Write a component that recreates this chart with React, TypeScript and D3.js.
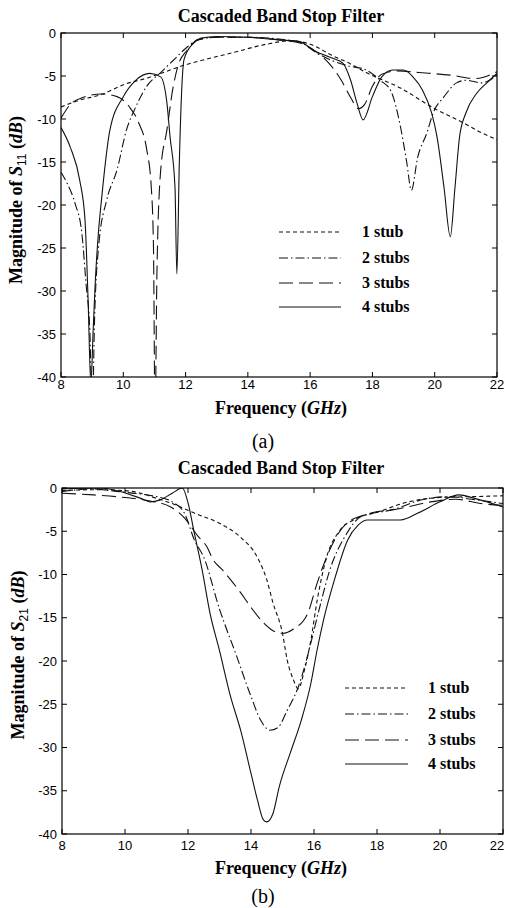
import React from "react";
import * as d3 from "d3";

type Pt = [number, number];

const freqTicks = [8, 10, 12, 14, 16, 18, 20, 22];
const dbTicks = [0, -5, -10, -15, -20, -25, -30, -35, -40];
const legendLabels = ["1 stub", "2 stubs", "3 stubs", "4 stubs"];

// (a) magnitude of S11, [GHz, dB]
const s11OneStub: Pt[] = [
  [8, -8.6], [8.6, -7.8], [9.25, -7.2], [10.1, -5.9], [10.8, -5.2], [11.2, -4.7],
  [12, -3.7], [12.5, -3.2], [13.5, -2.3], [14.6, -1.3], [15.4, -0.9], [16, -1.3],
  [16.7, -2.6], [17.3, -3.6], [17.8, -4.6], [18.9, -6.4], [19.95, -8.7], [21, -10.6],
  [21.5, -11.6], [22, -12.4],
];
const s11TwoStubs: Pt[] = [
  [8, -16.2], [8.2, -17.5], [8.45, -19.8], [8.67, -23.3], [8.8, -29], [8.93, -35],
  [9.0, -45], [9.08, -33], [9.22, -24.4], [9.47, -19.4], [9.8, -15.9], [10.1, -11.3],
  [10.4, -8.6], [10.75, -6.2], [11.2, -4.6], [11.6, -3.2], [12.0, -1.8], [12.4, -0.8],
  [13, -0.5], [14, -0.5], [15, -0.7], [15.7, -1.1], [16.2, -2.3], [16.7, -3.2],
  [17.2, -3.8], [17.8, -4.3], [18.25, -5.5], [18.6, -6.8], [18.9, -10.9], [19.1, -15],
  [19.25, -18.3], [19.45, -14.5], [19.75, -11.6], [19.95, -9.3], [20.3, -7.4],
  [20.7, -5.8], [21.0, -5.5], [21.5, -5.8], [21.8, -5.4], [22, -4.9],
];
const s11ThreeStubs: Pt[] = [
  [8, -9.9], [8.3, -8.3], [8.7, -7.5], [9.3, -7.1], [9.8, -7.4], [10.2, -8.6],
  [10.5, -10.5], [10.75, -13.5], [10.9, -18], [10.97, -25], [11.02, -45], [11.08, -28],
  [11.2, -16], [11.4, -11.3], [11.6, -6.3], [11.75, -3.9], [12.05, -2], [12.4, -0.8],
  [13, -0.5], [14, -0.5], [15, -0.8], [15.7, -1.2], [16.2, -2.2], [16.6, -3.5],
  [17.0, -5.5], [17.3, -7.5], [17.55, -8.8], [17.75, -8.3], [18.0, -6.2], [18.3, -4.8],
  [18.8, -4.4], [19.5, -4.6], [20.5, -4.9], [21.3, -5.3], [22, -4.5],
];
const s11FourStubs: Pt[] = [
  [8, -11], [8.3, -13.3], [8.6, -17.1], [8.77, -21.7], [8.87, -31], [8.96, -41],
  [9.03, -34.8], [9.1, -29], [9.2, -23.3], [9.3, -19.4], [9.57, -11.3], [10, -7.4],
  [10.4, -5.5], [10.85, -4.7], [11.2, -5.1], [11.4, -8.1], [11.5, -12], [11.66, -17.9],
  [11.72, -28], [11.8, -15], [11.88, -6.3], [11.95, -3.1], [12.25, -1.2], [12.5, -0.6],
  [13, -0.4], [14, -0.5], [15, -0.8], [15.67, -1.0], [16.1, -2], [16.7, -2.9],
  [17.05, -3.5], [17.3, -5.5], [17.5, -8.1], [17.7, -10.1], [18.0, -7.4], [18.3, -5.1],
  [18.65, -4.3], [19.0, -4.3], [19.3, -5.1], [19.6, -6.6], [19.9, -9.3], [20.07, -12],
  [20.3, -18], [20.5, -23.7], [20.65, -18], [20.8, -12], [21.0, -9.3], [21.35, -7],
  [21.7, -5.7], [22, -4.7],
];

// (b) magnitude of S21, [GHz, dB]
const s21OneStub: Pt[] = [
  [8, -0.3], [9, -0.2], [10, -0.3], [10.5, -0.6], [11, -1.2], [11.5, -1.8],
  [12.2, -2.9], [12.95, -4], [13.67, -5.7], [14.2, -8], [14.5, -10.6], [14.7, -13.3],
  [15.0, -16.8], [15.15, -19.9], [15.35, -22.2], [15.5, -23.2], [15.7, -21],
  [15.9, -17.6], [16.1, -13], [16.4, -8], [16.8, -5], [17.3, -3.6], [18, -2.8],
  [19, -1.6], [20, -1.1], [21, -1.0], [22, -0.9],
];
const s21TwoStubs: Pt[] = [
  [8, -0.4], [8.5, -0.2], [9, -0.1], [9.5, -0.3], [10, -0.5], [10.5, -0.7], [11, -1.0],
  [11.5, -1.6], [11.9, -3.0], [12.2, -6], [12.5, -8], [13.0, -14], [13.55, -19.5],
  [14.0, -24.1], [14.3, -26.8], [14.6, -28], [14.85, -27.7], [15.15, -25.7],
  [15.5, -23], [15.7, -20.7], [15.9, -17.9], [16.2, -13.5], [16.5, -9.5], [17, -5.5],
  [17.5, -3.3], [18.5, -2.5], [19.5, -1.3], [20.3, -1.0], [21, -1.3], [22, -1.8],
];
const s21ThreeStubs: Pt[] = [
  [8, -0.6], [9, -0.8], [10, -1.1], [10.8, -1.5], [11.45, -2.2], [11.9, -3.5],
  [12.3, -5.5], [12.6, -6.8], [12.8, -8.3], [13.1, -9.5], [13.35, -10.6], [13.67, -12.1],
  [14.0, -13.8], [14.4, -15.6], [14.7, -16.5], [15.0, -16.8], [15.35, -16.3],
  [15.8, -14.5], [16.1, -11], [16.4, -8], [17, -4.2], [17.7, -3], [18.7, -2.4],
  [19.7, -1.6], [20.5, -1.3], [21.3, -1.8], [22, -2.0],
];
const s21FourStubs: Pt[] = [
  [8, -0.1], [9.2, 0], [9.85, -0.4], [10.5, -1.2], [10.8, -1.6], [11.1, -1.4],
  [11.5, -0.6], [11.82, 0], [12.0, -1.7], [12.2, -5.2], [12.45, -9.5], [12.7, -14.5],
  [13.0, -18.8], [13.35, -24.1], [13.67, -28], [14.0, -33], [14.2, -36], [14.4, -38.4],
  [14.5, -38.6], [14.7, -37.6], [14.9, -34.5], [15.25, -30.6], [15.6, -26.8],
  [15.9, -22.6], [16.1, -18.7], [16.3, -15.3], [16.65, -10.6], [17.07, -6],
  [17.4, -4.3], [17.7, -3.7], [18.75, -3.7], [19.3, -2.9], [20.0, -1.6], [20.6, -0.8],
  [21.1, -1.2], [22, -2.2],
];

const dashes = ["4,3", "9,3,1.5,3", "14,6", ""];
const serif = "'Liberation Serif', 'Times New Roman', serif";
const sans = "'Liberation Sans', Arial, sans-serif";

type PanelProps = {
  id: string;
  box: { left: number; right: number; top: number; bottom: number };
  series: Pt[][];
  titleY: number;
  sub: string;
  yLabelX: number;
  yLabelY: number;
  xLabelY: number;
  tickY: number;
  caption: string;
  captionY: number;
  legend: { x0: number; x1: number; tx: number; rows: number[] };
};

function Panel(p: PanelProps) {
  const { left, right, top, bottom } = p.box;
  const x = d3.scaleLinear().domain([8, 22]).range([left, right]);
  const y = d3.scaleLinear().domain([-40, 0]).range([bottom, top]);
  const line = d3
    .line<Pt>()
    .x((d) => x(d[0]))
    .y((d) => y(d[1]))
    .curve(d3.curveMonotoneX);
  const tk = 5;

  return (
    <g>
      <defs>
        <clipPath id={p.id}>
          <rect x={left} y={top} width={right - left} height={bottom - top} />
        </clipPath>
      </defs>
      <text x={281} y={p.titleY} textAnchor="middle" fontFamily={serif} fontWeight="bold" fontSize={18}>
        Cascaded Band Stop Filter
      </text>

      <g clipPath={`url(#${p.id})`}>
        {p.series.map((s, i) => (
          <path
            key={i}
            d={line(s) || ""}
            fill="none"
            stroke="#111"
            strokeWidth={1.1}
            strokeDasharray={dashes[i] || undefined}
          />
        ))}
      </g>

      <rect x={left} y={top} width={right - left} height={bottom - top} fill="none" stroke="#000" strokeWidth={1.2} />

      {freqTicks.map((t) => {
        // keep the last label inside the page edge
        const tx = Math.min(x(t), 505 - 8);
        return (
          <g key={"x" + t}>
            <line x1={x(t)} x2={x(t)} y1={bottom} y2={bottom - tk} stroke="#000" />
            <line x1={x(t)} x2={x(t)} y1={top} y2={top + tk} stroke="#000" />
            <text x={tx} y={p.tickY} textAnchor="middle" fontFamily={sans} fontSize={13}>
              {t}
            </text>
          </g>
        );
      })}
      {dbTicks.map((t) => (
        <g key={"y" + t}>
          <line x1={left} x2={left + tk} y1={y(t)} y2={y(t)} stroke="#000" />
          <line x1={right} x2={right - tk} y1={y(t)} y2={y(t)} stroke="#000" />
          <text x={left - 5} y={y(t)} dy="0.35em" textAnchor="end" fontFamily={sans} fontSize={13}>
            {t}
          </text>
        </g>
      ))}

      <text
        transform={`translate(${p.yLabelX},${p.yLabelY}) rotate(-90)`}
        textAnchor="middle"
        fontFamily={serif}
        fontWeight="bold"
        fontSize={18}
      >
        Magnitude of <tspan fontStyle="italic">S</tspan>
        <tspan fontFamily={sans} fontWeight="normal" fontSize={12} dy={4}>
          {p.sub}
        </tspan>
        <tspan dy={-4}> (</tspan>
        <tspan fontStyle="italic">dB</tspan>)
      </text>

      <text x={281} y={p.xLabelY} textAnchor="middle" fontFamily={serif} fontWeight="bold" fontSize={18}>
        Frequency (<tspan fontStyle="italic">GHz</tspan>)
      </text>
      <text x={263} y={p.captionY} textAnchor="middle" fontFamily={serif} fontSize={20}>
        {p.caption}
      </text>

      {legendLabels.map((lab, i) => (
        <g key={lab}>
          <line
            x1={p.legend.x0}
            x2={p.legend.x1}
            y1={p.legend.rows[i]}
            y2={p.legend.rows[i]}
            stroke="#111"
            strokeWidth={1.1}
            strokeDasharray={dashes[i] || undefined}
          />
          <text x={p.legend.tx} y={p.legend.rows[i] + 5} fontFamily={serif} fontWeight="bold" fontSize={16}>
            {lab}
          </text>
        </g>
      ))}
    </g>
  );
}

export default function App() {
  return (
    <svg
      width={505}
      height={908}
      style={{ position: "absolute", left: 0, top: 0, background: "#fff" }}
    >
      <rect width={505} height={908} fill="#fff" />
      <Panel
        id="clipA"
        box={{ left: 61, right: 497, top: 33, bottom: 377 }}
        series={[s11OneStub, s11TwoStubs, s11ThreeStubs, s11FourStubs]}
        titleY={22}
        sub="11"
        yLabelX={22}
        yLabelY={200}
        xLabelY={414}
        tickY={389}
        caption="(a)"
        captionY={448}
        legend={{ x0: 279, x1: 341, tx: 362, rows: [232, 258, 283, 307] }}
      />
      <Panel
        id="clipB"
        box={{ left: 62, right: 503, top: 488, bottom: 834 }}
        series={[s21OneStub, s21TwoStubs, s21ThreeStubs, s21FourStubs]}
        titleY={474}
        sub="21"
        yLabelX={24}
        yLabelY={655}
        xLabelY={874}
        tickY={850}
        caption="(b)"
        captionY={903}
        legend={{ x0: 345, x1: 408, tx: 428, rows: [688, 714, 740, 764] }}
      />
    </svg>
  );
}
